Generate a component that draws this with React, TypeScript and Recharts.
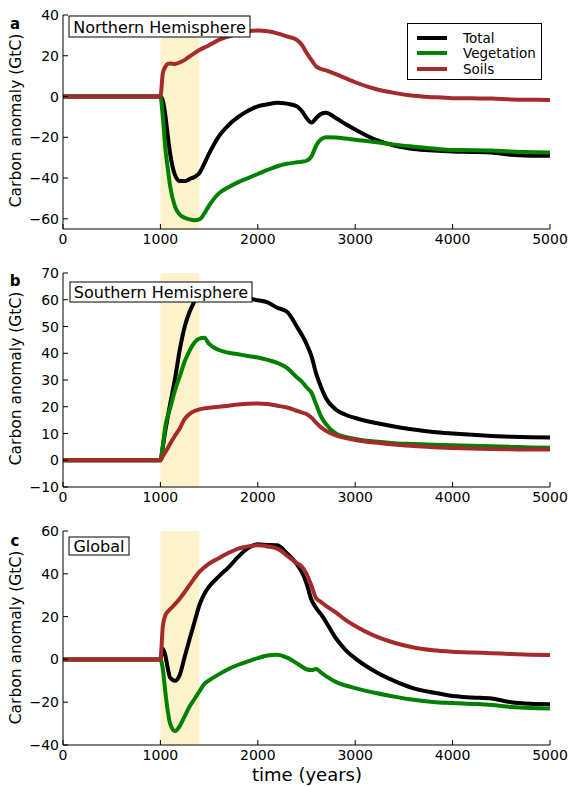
import { LineChart, Line, XAxis, YAxis, ReferenceArea } from "recharts";

const years = [
  0, 1000, 1025, 1050, 1075, 1100, 1150, 1200, 1250, 1300,
  1350, 1400, 1450, 1500, 1600, 1700, 1800, 1900, 2000, 2100,
  2200, 2300, 2400, 2450, 2500, 2550, 2600, 2650, 2700, 2800,
  2900, 3000, 3200, 3400, 3600, 3800, 4000, 4200, 4400, 4600,
  4800, 5000,
];

// a: Northern Hemisphere
const nhTotal = [
  0, 0, -2, -9, -19, -28, -38.5, -41.5, -41.5, -40.5,
  -39.5, -37.5, -33, -28, -19.5, -14, -10, -7, -4.8, -3.8,
  -3, -3.5, -4.8, -7, -10.5, -12.8, -10.5, -8.5, -7.9, -10.5,
  -13.5, -16.2, -21, -24, -25.7, -26.5, -27, -27.2, -27.5, -28.6,
  -29, -29.1,
];
const nhVeg = [
  0, 0, -10, -25, -35, -44, -54, -58, -59.5, -60.3,
  -60.7, -60.3, -57.5, -53.5, -47.5, -44.5, -42, -40, -38, -36,
  -34.2, -33, -32.3, -32, -31.5, -29.5, -24, -21, -20, -20.1,
  -20.6, -21.2, -22.3, -23.6, -24.6, -25.5, -26.2, -26.3, -26.5, -27,
  -27.3, -27.5,
];
const nhSoil = [
  0, 0, 11.5, 14.5, 16, 16.2, 16, 16.8, 18, 19.7,
  21.3, 22.8, 24, 25.2, 27.8, 29.5, 31, 32, 32.4, 32,
  31, 29.5, 27.8, 25.5, 21.5, 18, 14.7, 13.5, 12.8, 11,
  9, 7, 3.8, 1.8, 0.4, -0.3, -0.8, -0.9, -1, -1.4,
  -1.6, -1.7,
];

// b: Southern Hemisphere
const shTotal = [
  0, 0, 5, 11, 16, 21, 30.5, 41.5, 50, 55.5,
  59.5, 63, 64, 63, 61.5, 60.8, 60.5, 60.5, 59.8, 59,
  57, 55.5, 50, 47, 43.5, 39, 32.3, 27.3, 23.2, 19,
  17, 15.8, 14, 12.6, 11.5, 10.6, 10, 9.5, 9.1, 8.8,
  8.6, 8.5,
];
const shVeg = [
  0, 0, 5.5, 12.5, 16.5, 19.5, 26.2, 31.5, 37, 41,
  44, 45.5, 45.8, 43.5, 41.2, 40.2, 39.6, 39, 38.4, 37.5,
  36.4, 34.5, 31, 29.5, 27.3, 25.3, 20.8, 16.3, 13.5, 10,
  8.7, 8, 7, 6.4, 6.1, 5.8, 5.6, 5.4, 5.2, 5,
  4.8, 4.7,
];
const shSoil = [
  0, 0, 1.5, 3, 4.5, 6.2, 9.2, 12, 15.5, 17.3,
  18.4, 19, 19.4, 19.6, 20, 20.4, 20.8, 21.1, 21.2, 21,
  20.4, 19.7, 18.5, 17.9, 17.3, 16, 14, 12.3, 11, 9.3,
  8.3, 7.6, 6.6, 5.9, 5.3, 4.9, 4.6, 4.4, 4.2, 4.1,
  4, 4,
];

// c: Global
const glTotal = [
  0, 0, 5, 2, -4, -8.5, -10, -7, 1.3, 9.5,
  17.5, 25.3, 30.5, 34, 38.8, 43, 48, 52, 53.8, 53.5,
  53.3, 49.5, 44.5, 41, 35.5, 28, 24, 21, 17.5, 10,
  4.5, 0.5, -5.5, -10, -13.5, -15.5, -17.1, -17.8, -18.3, -20,
  -20.7, -20.9,
];
const glVeg = [
  0, 0, -4.5, -15, -24, -30, -33.5, -31, -26.5, -22,
  -18.5, -15, -11.5, -9.8, -7, -4.5, -2.5, -0.9, 0.6, 1.8,
  2.2, 0.8, -1.8, -3.3, -4.6, -5, -4.5, -6.2, -7.8, -10.5,
  -12.2, -13.4, -15.6, -17.4, -18.9, -19.9, -20.4, -20.8, -21.3, -22.2,
  -22.7, -22.9,
];
const glSoil = [
  0, 0, 15.5, 20.5, 22.3, 23.5, 25.8, 28.5, 31.5, 34.8,
  38, 40.9, 43, 44.8, 47.3, 49.8, 51.8, 52.8, 53.3, 52.8,
  51.8, 48.5, 45, 43.5, 40, 34.5, 28.5, 26.8, 25, 22,
  18.5, 15.6, 11, 7.8, 5.6, 4.3, 3.6, 3.2, 2.9, 2.5,
  2.2, 2,
];

const xTicks = [0, 1000, 2000, 3000, 4000, 5000];
const nhTicks = [-60, -40, -20, 0, 20, 40];
const shTicks = [-10, 0, 10, 20, 30, 40, 50, 60, 70];
const glTicks = [-40, -20, 0, 20, 40, 60];

const series = [
  { key: "total", name: "Total", color: "#000000" },
  { key: "veg", name: "Vegetation", color: "#008000" },
  { key: "soil", name: "Soils", color: "#a52a2a" },
];

const build = (t: number[], v: number[], s: number[]) =>
  years.map((year, i) => ({ year, total: t[i], veg: v[i], soil: s[i] }));

const fmt = (v: number) => String(v).replace("-", "\u2212");

const BottomTick = (p: any) => (
  <g>
    <line x1={p.x} x2={p.x} y1={p.y} y2={p.y - 5} stroke="#000" />
    <text x={p.x} y={p.y + 4} dy="0.78em" textAnchor="middle" fontSize={14} fill="#000">
      {fmt(p.payload.value)}
    </text>
  </g>
);
const TopTick = (p: any) => (
  <line x1={p.x} x2={p.x} y1={p.y} y2={p.y + 5} stroke="#000" />
);
const LeftTick = (p: any) => (
  <g>
    <line x1={p.x} x2={p.x + 5} y1={p.y} y2={p.y} stroke="#000" />
    <text x={p.x - 4} y={p.y} dy="0.36em" textAnchor="end" fontSize={14} fill="#000">
      {fmt(p.payload.value)}
    </text>
  </g>
);
const RightTick = (p: any) => (
  <line x1={p.x} x2={p.x - 5} y1={p.y} y2={p.y} stroke="#000" />
);

type PanelProps = {
  top: number;
  data: any[];
  domain: [number, number];
  ticks: number[];
};

function Panel({ top, data, domain, ticks }: PanelProps) {
  return (
    <div style={{ position: "absolute", left: 0, top }}>
      <LineChart width={570} height={250} data={data} margin={{ top: 10, right: 20, bottom: 0, left: 23 }}>
        <XAxis
          dataKey="year"
          type="number"
          domain={[0, 5000]}
          ticks={xTicks}
          interval={0}
          height={26}
          tickSize={0}
          tickMargin={0}
          tickLine={false}
          tick={BottomTick}
          axisLine={{ stroke: "#000" }}
          allowDataOverflow
        />
        <XAxis
          xAxisId="top"
          orientation="top"
          dataKey="year"
          type="number"
          domain={[0, 5000]}
          ticks={xTicks}
          interval={0}
          height={0}
          tickSize={0}
          tickMargin={0}
          tickLine={false}
          tick={TopTick}
          axisLine={{ stroke: "#000" }}
          allowDataOverflow
        />
        <YAxis
          yAxisId="left"
          type="number"
          domain={domain}
          ticks={ticks}
          interval={0}
          width={40}
          tickSize={0}
          tickMargin={0}
          tickLine={false}
          tick={LeftTick}
          axisLine={{ stroke: "#000" }}
          allowDataOverflow
        />
        <YAxis
          yAxisId="right"
          orientation="right"
          type="number"
          domain={domain}
          ticks={ticks}
          interval={0}
          width={0}
          tickSize={0}
          tickMargin={0}
          tickLine={false}
          tick={RightTick}
          axisLine={{ stroke: "#000" }}
          allowDataOverflow
        />
        <ReferenceArea yAxisId="left" x1={1000} x2={1400} fill="#fcf3cc" fillOpacity={1} strokeOpacity={0} />
        {series.map((s) => (
          <Line
            key={s.key}
            yAxisId="left"
            type="monotone"
            dataKey={s.key}
            name={s.name}
            stroke={s.color}
            strokeWidth={4}
            dot={false}
            isAnimationActive={false}
          />
        ))}
      </LineChart>
    </div>
  );
}

const panels = [
  { letter: "a", title: "Northern Hemisphere", labelY: 120.5, letterY: 24, box: [69, 16, 181, 21] },
  { letter: "b", title: "Southern Hemisphere", labelY: 378.5, letterY: 281, box: [70, 282, 182, 20] },
  { letter: "c", title: "Global", labelY: 637.5, letterY: 541, box: [69, 537, 60, 18] },
];

export default function App() {
  return (
    <div style={{ position: "absolute", left: 0, top: 0, width: 570, height: 787, background: "#fff", fontFamily: "'DejaVu Sans', sans-serif" }}>
      <Panel top={5} data={build(nhTotal, nhVeg, nhSoil)} domain={[-65, 40]} ticks={nhTicks} />
      <Panel top={263} data={build(shTotal, shVeg, shSoil)} domain={[-10, 70]} ticks={shTicks} />
      <Panel top={521} data={build(glTotal, glVeg, glSoil)} domain={[-40, 60]} ticks={glTicks} />
      <div
        style={{
          position: "absolute",
          left: 407,
          top: 23,
          width: 135,
          height: 57,
          border: "1px solid #000",
          background: "#fff",
          paddingTop: 6,
          boxSizing: "border-box",
        }}
      >
        {series.map((s) => (
          <div key={s.key} style={{ display: "flex", alignItems: "center", height: 15.5 }}>
            <span style={{ display: "inline-block", marginLeft: 9, width: 30, height: 4, background: s.color }} />
            <span style={{ marginLeft: 16, fontSize: 13.5, color: "#000" }}>{s.name}</span>
          </div>
        ))}
      </div>
      <svg width={570} height={787} style={{ position: "absolute", left: 0, top: 0, pointerEvents: "none" }}>
        {panels.map((p) => (
          <g key={p.letter}>
            <text x={15} y={p.letterY} textAnchor="middle" dominantBaseline="central" fontSize={15} fontWeight="bold">
              {p.letter}
            </text>
            <text
              x={16}
              y={p.labelY}
              transform={`rotate(-90 16 ${p.labelY})`}
              textAnchor="middle"
              dominantBaseline="central"
              fontSize={15.5}
            >
              Carbon anomaly (GtC)
            </text>
            <rect x={p.box[0]} y={p.box[1]} width={p.box[2]} height={p.box[3]} fill="#fff" stroke="#000" />
            <text x={p.box[0] + p.box[2] / 2} y={p.box[1] + p.box[3] / 2 + 0.5} textAnchor="middle" dominantBaseline="central" fontSize={16}>
              {p.title}
            </text>
          </g>
        ))}
        <text x={307} y={774} textAnchor="middle" dominantBaseline="central" fontSize={18}>
          time (years)
        </text>
      </svg>
    </div>
  );
}
